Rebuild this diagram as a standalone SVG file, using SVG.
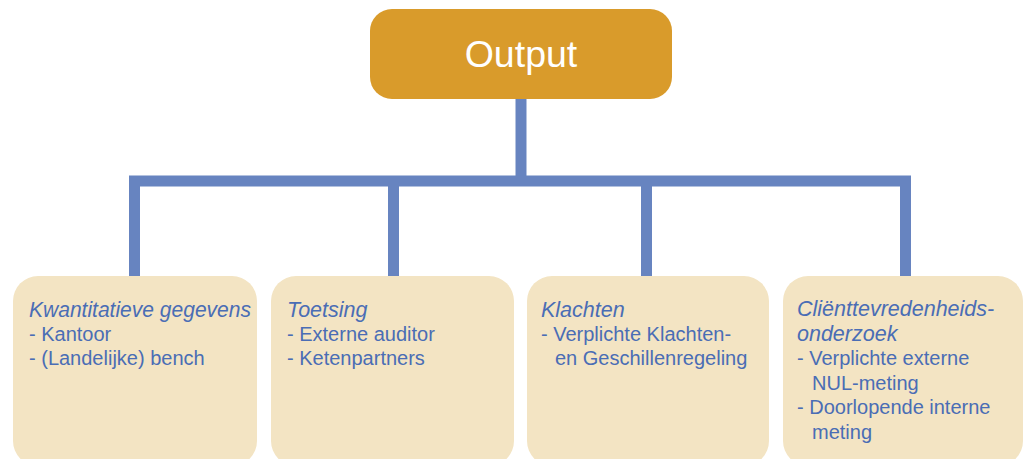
<svg xmlns="http://www.w3.org/2000/svg" width="1023" height="459" viewBox="0 0 1023 459">
<style>
.box{fill:#f3e4c3}
.t{font-family:"Liberation Sans",Arial,Helvetica,sans-serif;font-size:20px;fill:#4a6db5}
.h{font-style:italic;font-size:21.5px}
.conn{stroke:#6784c0;stroke-width:11;fill:none;stroke-linecap:butt}
</style>
<rect width="1023" height="459" fill="#ffffff"/>
<g id="connectors">
<line class="conn" x1="521" y1="99" x2="521" y2="181"/>
<line class="conn" x1="129" y1="181" x2="911" y2="181"/>
<line class="conn" x1="134.5" y1="176" x2="134.5" y2="277"/>
<line class="conn" x1="393.5" y1="176" x2="393.5" y2="277"/>
<line class="conn" x1="646.5" y1="176" x2="646.5" y2="277"/>
<line class="conn" x1="905.5" y1="176" x2="905.5" y2="277"/>
</g>
<g id="output">
<rect x="370" y="9" width="302" height="90" rx="22" fill="#d99b2b"/>
<text x="521" y="67" text-anchor="middle" font-family="'Liberation Sans',Arial,Helvetica,sans-serif" font-size="37.5" fill="#ffffff">Output</text>
</g>
<g id="kwantitatief">
<rect class="box" x="13" y="276" width="244" height="190" rx="25"/>
<text class="t h" x="29" y="317" textLength="222" lengthAdjust="spacingAndGlyphs">Kwantitatieve gegevens</text>
<text class="t" x="29" y="341">- Kantoor</text>
<text class="t" x="29" y="365">- (Landelijke) bench</text>
</g>
<g id="toetsing">
<rect class="box" x="271" y="276" width="243" height="190" rx="25"/>
<text class="t h" x="287" y="317">Toetsing</text>
<text class="t" x="287" y="341">- Externe auditor</text>
<text class="t" x="287" y="365">- Ketenpartners</text>
</g>
<g id="klachten">
<rect class="box" x="527" y="276" width="242" height="190" rx="25"/>
<text class="t h" x="541" y="317">Klachten</text>
<text class="t" x="541" y="341">- Verplichte Klachten-</text>
<text class="t" x="555" y="365">en Geschillenregeling</text>
</g>
<g id="clienttevredenheid">
<rect class="box" x="783" y="276" width="240" height="190" rx="25"/>
<text class="t h" x="797" y="316">Cliënttevredenheids-</text>
<text class="t h" x="797" y="340.5">onderzoek</text>
<text class="t" x="797" y="365">- Verplichte externe</text>
<text class="t" x="812" y="389.5">NUL-meting</text>
<text class="t" x="797" y="414">- Doorlopende interne</text>
<text class="t" x="812" y="438.5">meting</text>
</g>
</svg>
